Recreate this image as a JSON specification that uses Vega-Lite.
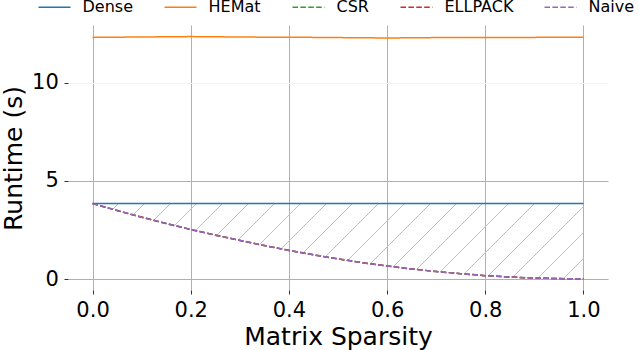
{
  "$schema": "https://vega.github.io/schema/vega-lite/v6.json",
  "width": 540,
  "height": 265,
  "autosize": {"type": "none"},
  "padding": {"left": 68, "top": 25, "right": 30, "bottom": 60},
  "config": {
    "view": {"stroke": null},
    "font": "DejaVu Sans",
    "axis": {
      "domain": false,
      "grid": true,
      "gridColor": "#b0b0b0",
      "gridWidth": 1,
      "tickColor": "#333333",
      "tickWidth": 1,
      "tickSize": 4,
      "labelFont": "DejaVu Sans",
      "labelFontSize": 21,
      "labelColor": "#000000",
      "titleFont": "DejaVu Sans",
      "titleFontSize": 25,
      "titleFontWeight": "normal",
      "titleColor": "#000000"
    }
  },
  "data": {
    "values": [
      {"s": 0.0, "Dense": 3.85, "HEMat": 12.30, "CSR": 3.85, "ELLPACK": 3.85, "Naive": 3.85},
      {"s": 0.05, "Dense": 3.85, "HEMat": 12.31, "CSR": 3.49, "ELLPACK": 3.49, "Naive": 3.50},
      {"s": 0.1, "Dense": 3.85, "HEMat": 12.32, "CSR": 3.15, "ELLPACK": 3.16, "Naive": 3.15},
      {"s": 0.15, "Dense": 3.85, "HEMat": 12.33, "CSR": 2.83, "ELLPACK": 2.83, "Naive": 2.84},
      {"s": 0.2, "Dense": 3.85, "HEMat": 12.34, "CSR": 2.53, "ELLPACK": 2.53, "Naive": 2.53},
      {"s": 0.25, "Dense": 3.85, "HEMat": 12.33, "CSR": 2.24, "ELLPACK": 2.25, "Naive": 2.24},
      {"s": 0.3, "Dense": 3.85, "HEMat": 12.32, "CSR": 1.97, "ELLPACK": 1.97, "Naive": 1.98},
      {"s": 0.35, "Dense": 3.85, "HEMat": 12.31, "CSR": 1.71, "ELLPACK": 1.71, "Naive": 1.71},
      {"s": 0.4, "Dense": 3.85, "HEMat": 12.31, "CSR": 1.46, "ELLPACK": 1.47, "Naive": 1.46},
      {"s": 0.45, "Dense": 3.85, "HEMat": 12.30, "CSR": 1.24, "ELLPACK": 1.24, "Naive": 1.24},
      {"s": 0.5, "Dense": 3.85, "HEMat": 12.29, "CSR": 1.03, "ELLPACK": 1.03, "Naive": 1.04},
      {"s": 0.55, "Dense": 3.85, "HEMat": 12.28, "CSR": 0.84, "ELLPACK": 0.84, "Naive": 0.84},
      {"s": 0.6, "Dense": 3.85, "HEMat": 12.27, "CSR": 0.67, "ELLPACK": 0.67, "Naive": 0.67},
      {"s": 0.65, "Dense": 3.85, "HEMat": 12.28, "CSR": 0.52, "ELLPACK": 0.52, "Naive": 0.52},
      {"s": 0.7, "Dense": 3.85, "HEMat": 12.29, "CSR": 0.39, "ELLPACK": 0.39, "Naive": 0.39},
      {"s": 0.75, "Dense": 3.85, "HEMat": 12.30, "CSR": 0.28, "ELLPACK": 0.28, "Naive": 0.28},
      {"s": 0.8, "Dense": 3.85, "HEMat": 12.30, "CSR": 0.18, "ELLPACK": 0.18, "Naive": 0.18},
      {"s": 0.85, "Dense": 3.85, "HEMat": 12.30, "CSR": 0.11, "ELLPACK": 0.11, "Naive": 0.11},
      {"s": 0.9, "Dense": 3.85, "HEMat": 12.30, "CSR": 0.06, "ELLPACK": 0.06, "Naive": 0.06},
      {"s": 0.95, "Dense": 3.85, "HEMat": 12.31, "CSR": 0.03, "ELLPACK": 0.03, "Naive": 0.03},
      {"s": 1.0, "Dense": 3.85, "HEMat": 12.31, "CSR": 0.02, "ELLPACK": 0.02, "Naive": 0.02}
    ]
  },
  "layer": [
    {
      "mark": {
        "type": "area",
        "stroke": null,
        "fill": {
          "gradient": "linear",
          "x1": 0, "y1": 0, "x2": 1.15, "y2": 0.1764,
          "stops": [
            {"offset": 0, "color": "rgba(192,192,192,0)"},
            {"offset": 0.0436, "color": "rgba(192,192,192,0)"}, {"offset": 0.0436, "color": "#c0c0c0"}, {"offset": 0.0464, "color": "#c0c0c0"}, {"offset": 0.0464, "color": "rgba(192,192,192,0)"},
            {"offset": 0.0886, "color": "rgba(192,192,192,0)"}, {"offset": 0.0886, "color": "#c0c0c0"}, {"offset": 0.0914, "color": "#c0c0c0"}, {"offset": 0.0914, "color": "rgba(192,192,192,0)"},
            {"offset": 0.1336, "color": "rgba(192,192,192,0)"}, {"offset": 0.1336, "color": "#c0c0c0"}, {"offset": 0.1364, "color": "#c0c0c0"}, {"offset": 0.1364, "color": "rgba(192,192,192,0)"},
            {"offset": 0.1786, "color": "rgba(192,192,192,0)"}, {"offset": 0.1786, "color": "#c0c0c0"}, {"offset": 0.1814, "color": "#c0c0c0"}, {"offset": 0.1814, "color": "rgba(192,192,192,0)"},
            {"offset": 0.2236, "color": "rgba(192,192,192,0)"}, {"offset": 0.2236, "color": "#c0c0c0"}, {"offset": 0.2264, "color": "#c0c0c0"}, {"offset": 0.2264, "color": "rgba(192,192,192,0)"},
            {"offset": 0.2686, "color": "rgba(192,192,192,0)"}, {"offset": 0.2686, "color": "#c0c0c0"}, {"offset": 0.2714, "color": "#c0c0c0"}, {"offset": 0.2714, "color": "rgba(192,192,192,0)"},
            {"offset": 0.3136, "color": "rgba(192,192,192,0)"}, {"offset": 0.3136, "color": "#c0c0c0"}, {"offset": 0.3164, "color": "#c0c0c0"}, {"offset": 0.3164, "color": "rgba(192,192,192,0)"},
            {"offset": 0.3586, "color": "rgba(192,192,192,0)"}, {"offset": 0.3586, "color": "#c0c0c0"}, {"offset": 0.3614, "color": "#c0c0c0"}, {"offset": 0.3614, "color": "rgba(192,192,192,0)"},
            {"offset": 0.4036, "color": "rgba(192,192,192,0)"}, {"offset": 0.4036, "color": "#c0c0c0"}, {"offset": 0.4064, "color": "#c0c0c0"}, {"offset": 0.4064, "color": "rgba(192,192,192,0)"},
            {"offset": 0.4486, "color": "rgba(192,192,192,0)"}, {"offset": 0.4486, "color": "#c0c0c0"}, {"offset": 0.4514, "color": "#c0c0c0"}, {"offset": 0.4514, "color": "rgba(192,192,192,0)"},
            {"offset": 0.4936, "color": "rgba(192,192,192,0)"}, {"offset": 0.4936, "color": "#c0c0c0"}, {"offset": 0.4964, "color": "#c0c0c0"}, {"offset": 0.4964, "color": "rgba(192,192,192,0)"},
            {"offset": 0.5386, "color": "rgba(192,192,192,0)"}, {"offset": 0.5386, "color": "#c0c0c0"}, {"offset": 0.5414, "color": "#c0c0c0"}, {"offset": 0.5414, "color": "rgba(192,192,192,0)"},
            {"offset": 0.5836, "color": "rgba(192,192,192,0)"}, {"offset": 0.5836, "color": "#c0c0c0"}, {"offset": 0.5864, "color": "#c0c0c0"}, {"offset": 0.5864, "color": "rgba(192,192,192,0)"},
            {"offset": 0.6286, "color": "rgba(192,192,192,0)"}, {"offset": 0.6286, "color": "#c0c0c0"}, {"offset": 0.6314, "color": "#c0c0c0"}, {"offset": 0.6314, "color": "rgba(192,192,192,0)"},
            {"offset": 0.6736, "color": "rgba(192,192,192,0)"}, {"offset": 0.6736, "color": "#c0c0c0"}, {"offset": 0.6764, "color": "#c0c0c0"}, {"offset": 0.6764, "color": "rgba(192,192,192,0)"},
            {"offset": 0.7186, "color": "rgba(192,192,192,0)"}, {"offset": 0.7186, "color": "#c0c0c0"}, {"offset": 0.7214, "color": "#c0c0c0"}, {"offset": 0.7214, "color": "rgba(192,192,192,0)"},
            {"offset": 0.7636, "color": "rgba(192,192,192,0)"}, {"offset": 0.7636, "color": "#c0c0c0"}, {"offset": 0.7664, "color": "#c0c0c0"}, {"offset": 0.7664, "color": "rgba(192,192,192,0)"},
            {"offset": 0.8086, "color": "rgba(192,192,192,0)"}, {"offset": 0.8086, "color": "#c0c0c0"}, {"offset": 0.8114, "color": "#c0c0c0"}, {"offset": 0.8114, "color": "rgba(192,192,192,0)"},
            {"offset": 0.8536, "color": "rgba(192,192,192,0)"}, {"offset": 0.8536, "color": "#c0c0c0"}, {"offset": 0.8564, "color": "#c0c0c0"}, {"offset": 0.8564, "color": "rgba(192,192,192,0)"},
            {"offset": 0.8986, "color": "rgba(192,192,192,0)"}, {"offset": 0.8986, "color": "#c0c0c0"}, {"offset": 0.9014, "color": "#c0c0c0"}, {"offset": 0.9014, "color": "rgba(192,192,192,0)"},
            {"offset": 0.9436, "color": "rgba(192,192,192,0)"}, {"offset": 0.9436, "color": "#c0c0c0"}, {"offset": 0.9464, "color": "#c0c0c0"}, {"offset": 0.9464, "color": "rgba(192,192,192,0)"},
            {"offset": 0.9886, "color": "rgba(192,192,192,0)"}, {"offset": 0.9886, "color": "#c0c0c0"}, {"offset": 0.9914, "color": "#c0c0c0"}, {"offset": 0.9914, "color": "rgba(192,192,192,0)"},
            {"offset": 1, "color": "rgba(192,192,192,0)"}
          ]
        }
      },
      "encoding": {
        "x": {
          "field": "s", "type": "quantitative",
          "scale": {"domain": [-0.05, 1.05], "nice": false, "zero": false},
          "axis": {
            "values": [0, 0.2, 0.4, 0.6, 0.8, 1.0], "format": ".1f",
            "title": "Matrix Sparsity",
            "labelBaseline": "alphabetic", "labelPadding": 22.7,
            "titleBaseline": "alphabetic", "titleY": 54.5, "titleX": 270, "titleAnchor": "middle"
          }
        },
        "y": {
          "field": "CSR", "type": "quantitative",
          "scale": {"domain": [-0.55, 12.93], "nice": false, "zero": false},
          "axis": {
            "values": [0, 5, 10],
            "title": "Runtime (s)",
            "labelPadding": 5.7,
            "gridColor": {"condition": {"test": "datum.value === 10", "value": "#f3f3f3"}, "value": "#b0b0b0"},
            "titleBaseline": "alphabetic", "titleX": -47, "titleY": 133, "titleAlign": "center", "titleAngle": -90
          }
        },
        "y2": {"field": "Dense"}
      }
    },
    {
      "transform": [{"fold": ["Dense", "HEMat", "CSR", "ELLPACK", "Naive"], "as": ["series", "runtime"]}],
      "mark": {"type": "line", "strokeWidth": 1.5},
      "encoding": {
        "x": {"field": "s", "type": "quantitative"},
        "y": {"field": "runtime", "type": "quantitative"},
        "color": {
          "field": "series", "type": "nominal",
          "scale": {"domain": ["Dense", "HEMat", "CSR", "ELLPACK", "Naive"], "range": ["#1f77b4", "#ff7f0e", "#2ca02c", "#d62728", "#9467bd"]},
          "legend": {
            "orient": "none", "legendX": -30.5, "legendY": -34.7, "direction": "horizontal", "columns": 5,
            "title": null, "symbolType": "stroke", "symbolSize": 1024, "symbolStrokeWidth": 1.5,
            "labelFontSize": 16, "labelFont": "DejaVu Sans", "labelColor": "#000000", "labelOffset": 11,
            "columnPadding": 28, "padding": 0, "labelLimit": 300
          }
        },
        "strokeDash": {
          "field": "series", "type": "nominal",
          "scale": {"domain": ["Dense", "HEMat", "CSR", "ELLPACK", "Naive"], "range": [[1, 0], [1, 0], [5.5, 2.4], [5.5, 2.4], [5.5, 2.4]]},
          "legend": {
            "orient": "none", "legendX": -30.5, "legendY": -34.7, "direction": "horizontal", "columns": 5,
            "title": null, "symbolType": "stroke", "symbolSize": 1024, "symbolStrokeWidth": 1.5,
            "labelFontSize": 16, "labelFont": "DejaVu Sans", "labelColor": "#000000", "labelOffset": 11,
            "columnPadding": 28, "padding": 0, "labelLimit": 300
          }
        }
      }
    }
  ]
}
